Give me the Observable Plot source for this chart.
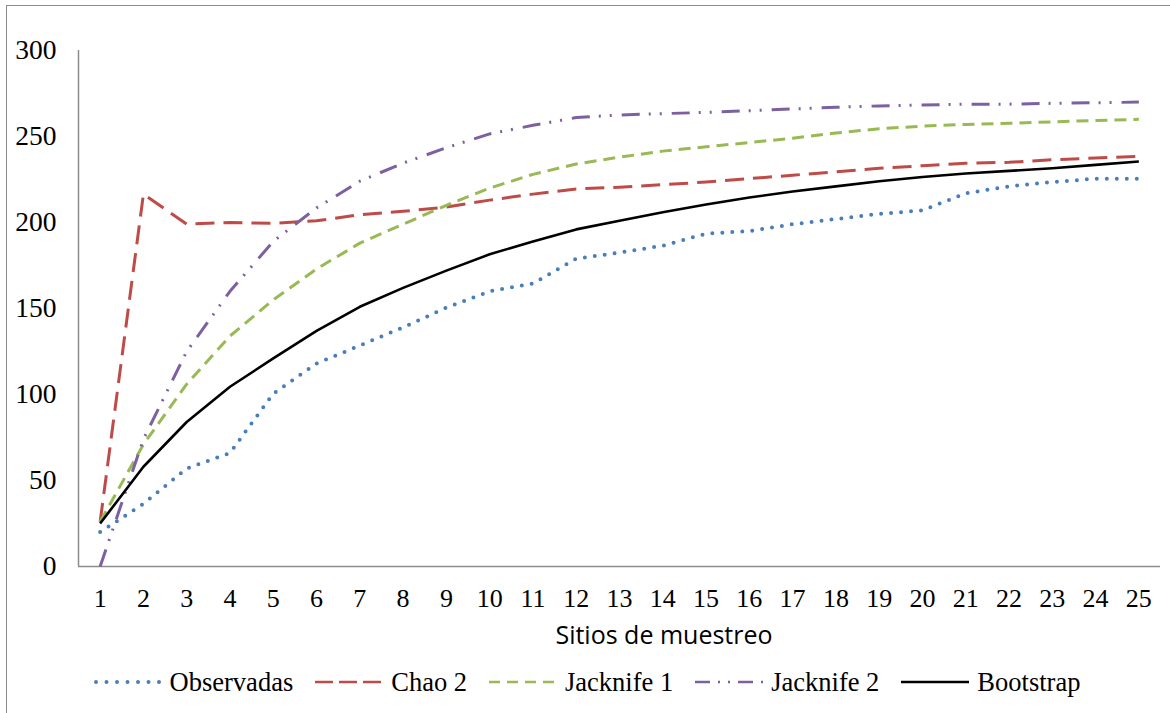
<!DOCTYPE html>
<html>
<head>
<meta charset="utf-8">
<script src="https://cdn.jsdelivr.net/npm/d3@7"></script>
<script src="https://cdn.jsdelivr.net/npm/@observablehq/plot@0.6"></script>
<style>
  html,body{margin:0;padding:0;background:#fff;}
  body{width:1170px;height:713px;position:relative;overflow:hidden;}
  #chart{position:absolute;left:0;top:0;}
  #frame{position:absolute;left:6px;top:5px;width:1200px;height:740px;border:1.5px solid #8c8c8c;box-sizing:border-box;pointer-events:none;}
  #xlabel{position:absolute;left:664px;top:617px;transform:translateX(-50%);font-family:"Open Sans",sans-serif;font-size:25px;white-space:nowrap;color:#000;line-height:34px;}
  #legend{position:absolute;left:7px;width:1160px;top:664px;display:flex;justify-content:center;align-items:center;gap:22px;font-family:"Liberation Serif",serif;font-size:26.5px;line-height:36px;color:#000;}
  .item{display:flex;align-items:center;}
  .item svg{margin-right:8px;display:block;}
</style>
</head>
<body>
<div id="chart"></div>
<div id="xlabel">Sitios de muestreo</div>
<div id="legend"></div>
<div id="frame"></div>
<script>
// ---- data ----
const sites = [1,2,3,4,5,6,7,8,9,10,11,12,13,14,15,16,17,18,19,20,21,22,23,24,25];
const yTicks = [0,50,100,150,200,250,300];
const observadas = [20,36.5,57,66,100.5,118,128.5,139,150.5,160,164.5,179,182.5,186.5,193.5,195,199,202,205,207,217,221,223.5,225.5,225.5];
const chao2      = [26,216.5,199,200,199.5,201,204.5,206.5,209,213,216.5,219.5,220.5,222,223.5,225.5,227.5,229.5,231.5,233,234.5,235,236.5,237.5,238.5];
const jacknife1  = [26,71,106,134,155,173,188,199,210,220,228,234,238,241.5,244,246.5,249,252,254.5,256,257,257.7,258.5,259.3,260];
const jacknife2  = [0,74,125,160,189,208.5,224,234.5,243.5,251.5,256.5,261,262.5,263.3,264,265,266,267,267.8,268.3,268.8,268.8,269.3,269.6,270];
const bootstrap  = [25,58,84,104.5,121,137,151,162,172,181.5,189,196,201,206,210.5,214.5,218,221,224,226.5,228.5,230,231.5,233.5,235.5];
const seriesNames = ["Observadas","Chao 2","Jacknife 1","Jacknife 2","Bootstrap"];
const seriesValues = [observadas, chao2, jacknife1, jacknife2, bootstrap];

// ---- styles ----
const seriesColors = ["#4a7ebb","#be4b48","#98b954","#7d60a0","#000000"];
const lineStyles = [
  {strokeWidth:4, strokeDasharray:"0 10", strokeLinecap:"round"},
  {strokeWidth:3, strokeDasharray:"19 9", strokeLinecap:"butt"},
  {strokeWidth:3, strokeDasharray:"12 7", strokeLinecap:"butt"},
  {strokeWidth:3, strokeDasharray:"18 9 2 9 2 10", strokeLinecap:"butt"},
  {strokeWidth:2.6, strokeLinecap:"butt"}
];
const legendStyles = [
  {w:4, dash:"0 10.5", cap:"round"},
  {w:2.5, dash:"18 6", cap:"butt"},
  {w:2.5, dash:"11 7", cap:"butt"},
  {w:2.5, dash:"15 8 2 8 2 8", cap:"butt"},
  {w:2.5, dash:null, cap:"butt"}
];

const axisGray = "#8c8c8c";

const chart = Plot.plot({
  width: 1170,
  height: 650,
  marginLeft: 78,
  marginRight: 10,
  marginTop: 50,
  marginBottom: 84,
  x: {type:"linear", domain:[0.5, 25.5]},
  y: {domain:[0, 300]},
  style: {fontFamily:"'Liberation Serif', 'Times New Roman', serif", fontSize:"26px", color:"#000", background:"transparent", overflow:"visible"},
  marks: [
    Plot.axisY({ticks: yTicks, tickSize: 0, tickPadding: 22, label: null, fontSize: 27.5, tickFormat: d => String(d)}),
    Plot.axisX({ticks: sites, tickSize: 0, tickPadding: 22, label: null, fontSize: 26, tickFormat: d => String(d)}),
    Plot.ruleX([0.5], {stroke: axisGray, strokeWidth: 1.5}),
    Plot.ruleY([0], {stroke: axisGray, strokeWidth: 1.5}),
    ...seriesValues.map((vals, i) => Plot.line(sites, {
      x: sites, y: vals, stroke: seriesColors[i], ...lineStyles[i]
    }))
  ]
});
document.getElementById("chart").appendChild(chart);

// ---- legend ----
const legend = document.getElementById("legend");
const NS = "http://www.w3.org/2000/svg";
seriesNames.forEach((name, i) => {
  const item = document.createElement("div");
  item.className = "item";
  const svg = document.createElementNS(NS, "svg");
  svg.setAttribute("width", 68);
  svg.setAttribute("height", 20);
  const ln = document.createElementNS(NS, "line");
  const st = legendStyles[i];
  ln.setAttribute("x1", st.cap === "round" ? 2 : 0);
  ln.setAttribute("x2", 68);
  ln.setAttribute("y1", 10);
  ln.setAttribute("y2", 10);
  ln.setAttribute("stroke", seriesColors[i]);
  ln.setAttribute("stroke-width", st.w);
  ln.setAttribute("stroke-linecap", st.cap);
  if (st.dash) ln.setAttribute("stroke-dasharray", st.dash);
  svg.appendChild(ln);
  const span = document.createElement("span");
  span.textContent = name;
  item.appendChild(svg);
  item.appendChild(span);
  legend.appendChild(item);
});
</script>
</body>
</html>
